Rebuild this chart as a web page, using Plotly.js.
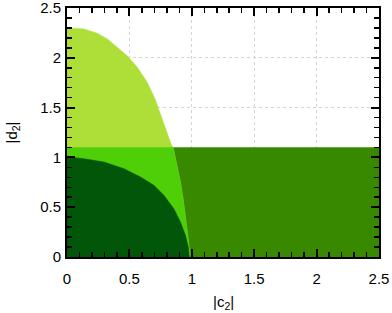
<!DOCTYPE html>
<html>
<head>
<meta charset="utf-8">
<script src="https://cdn.plot.ly/plotly-3.0.1.min.js"></script>
<style>html,body{margin:0;padding:0;background:#fff;}#chart{width:392px;height:313px;}</style>
</head>
<body>
<div id="chart"></div>
<script>
// Boundary of the light region (|c2|, |d2|)
const lightC = [0, 0.136, 0.243, 0.323, 0.403, 0.483, 0.563, 0.643, 0.705, 0.735, 0.763, 0.80, 0.837, 0.85, 0.883, 0.91, 0.931, 0.95, 0.965, 0.984, 0.986];
const lightD = [2.30, 2.29, 2.246, 2.19, 2.105, 2.02, 1.905, 1.754, 1.59, 1.48, 1.375, 1.25, 1.124, 1.10, 0.907, 0.74, 0.572, 0.40, 0.238, 0.037, 0];
// Boundary of the dark region
const darkC = [0, 0.136, 0.296, 0.456, 0.589, 0.696, 0.776, 0.856, 0.909, 0.949, 0.972, 0.98];
const darkD = [1.004, 0.987, 0.954, 0.887, 0.803, 0.72, 0.62, 0.485, 0.351, 0.218, 0.10, 0];
// Horizontal band limit and axis extent
const bandTop = 1.1;
const cMax = 2.5;
const tickVals = [0, 0.5, 1, 1.5, 2, 2.5];
const tickText = ['0', '0.5', '1', '1.5', '2', '2.5'];

const colors = {olive: '#388800', light: '#aede38', medium: '#4fcf08', dark: '#02560a'};

function poly(x, y, color) {
  return {type: 'scatter', mode: 'lines', x: x, y: y, fill: 'toself', fillcolor: color,
          line: {color: color, width: 0.5}, hoverinfo: 'skip', showlegend: false};
}

const medC = [], medD = [];
lightC.forEach((c, i) => { if (lightD[i] <= bandTop) { medC.push(c); medD.push(lightD[i]); } });

const traces = [
  poly([0, cMax, cMax, 0, 0], [0, 0, bandTop, bandTop, 0], colors.olive),
  poly([0].concat(lightC, [0]), [0].concat(lightD, [0]), colors.light),
  poly([0, 0].concat(medC, [0]), [0, bandTop].concat(medD, [0]), colors.medium),
  poly([0].concat(darkC, [0]), [0].concat(darkD, [0]), colors.dark)
];

const axisCommon = {
  range: [0, 2.5], tickvals: tickVals, ticktext: tickText,
  ticks: 'inside', ticklen: 8, tickwidth: 2, tickcolor: '#000',
  showline: true, linecolor: '#000', linewidth: 2, mirror: 'ticks',
  showgrid: true, gridcolor: '#d4d4d4', griddash: 'dot', gridwidth: 1,
  zeroline: false, fixedrange: true, ticklabeloverflow: 'allow',
  tickfont: {family: 'Liberation Sans, Arial, sans-serif', size: 15, color: '#000'},
  minor: {dtick: 0.1, ticks: 'inside', ticklen: 5, tickwidth: 1.5, tickcolor: '#000', showgrid: false}
};

const layout = {
  width: 392, height: 313,
  margin: {l: 67, r: 13, t: 8, b: 56},
  paper_bgcolor: '#fff', plot_bgcolor: '#fff',
  xaxis: Object.assign({}, axisCommon, {ticklabelstandoff: 7}),
  yaxis: Object.assign({}, axisCommon, {ticklabelstandoff: 1}),
  annotations: [
    {text: '|c<sub>2</sub>|', xref: 'paper', yref: 'paper', x: 0.5, y: 0, xanchor: 'center', yanchor: 'middle',
     yshift: -45, showarrow: false, font: {family: 'Liberation Sans, Arial, sans-serif', size: 15, color: '#000'}},
    {text: '|d<sub>2</sub>|', xref: 'paper', yref: 'paper', x: 0, y: 0.5, xanchor: 'center', yanchor: 'middle',
     xshift: -55, textangle: -90, showarrow: false, font: {family: 'Liberation Sans, Arial, sans-serif', size: 15, color: '#000'}}
  ]
};

Plotly.newPlot('chart', traces, layout, {displayModeBar: false, staticPlot: true});
</script>
</body>
</html>
